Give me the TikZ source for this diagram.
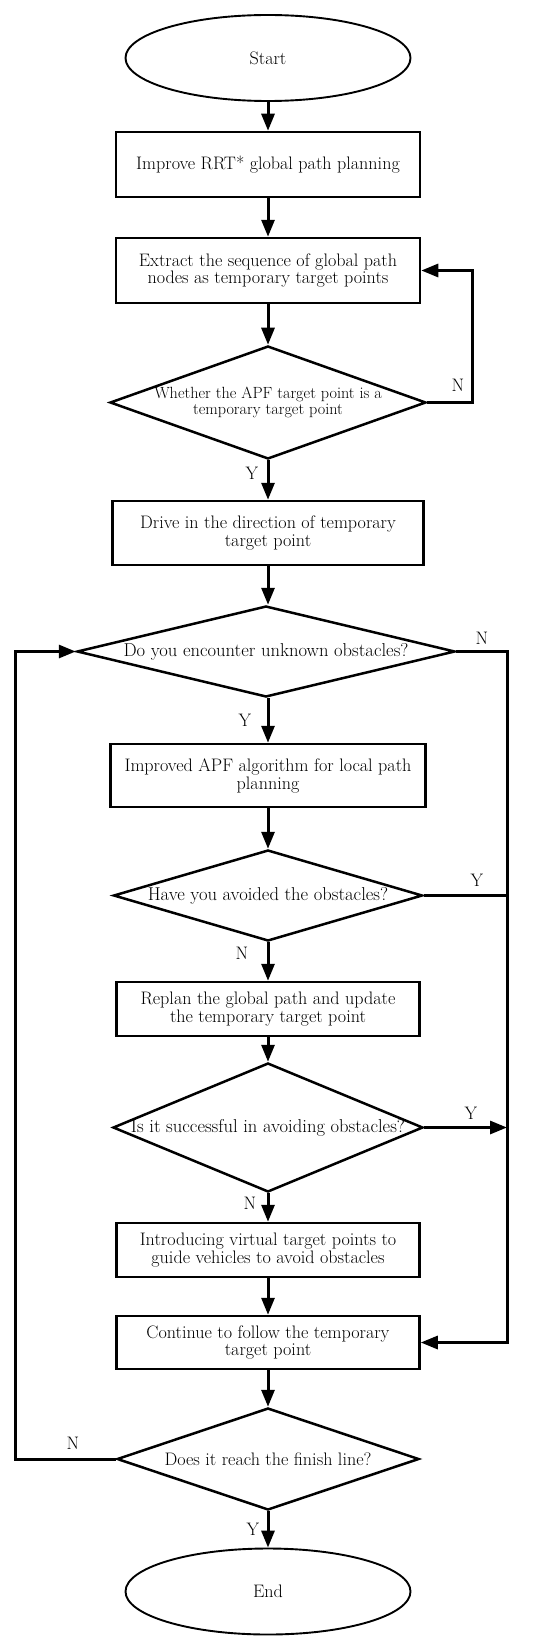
\documentclass[tikz,border=0pt]{standalone}
\usepackage{fontspec}
\usetikzlibrary{shapes.geometric,arrows.meta}
\begin{document}
\begin{tikzpicture}[
  x=1pt, y=-1pt,
  font=\fontsize{18.1}{17.9}\selectfont,
  terminal/.style={draw, ellipse, line width=1.9pt, minimum width=285pt, minimum height=86pt, inner sep=0pt},
  stepbox/.style={draw, rectangle, line width=2.5pt, minimum width=304pt, minimum height=#1, align=center, inner sep=0pt},
  query/.style={draw, diamond, line width=2.5pt, align=center, inner sep=-8pt, aspect=4, font=\fontsize{18.6}{18}\selectfont},
  flow/.style={-{Triangle[length=17pt,width=13pt]}, line width=3pt},
  link/.style={line width=3pt},
  yn/.style={font=\fontsize{18.1}{18.1}\selectfont},
]
\useasboundingbox (0,0) rectangle (550,1648);
% main column
\node[terminal] (start) at (268,58) {Start};
\node[stepbox=65pt] (rrt) at (268,164.5) {Improve RRT* global path planning};
\node[stepbox=65pt] (extract) at (268,270.5) {Extract the sequence of global path\\nodes as temporary target points};
\node[query, minimum width=316pt, minimum height=113pt, font=\fontsize{16.2}{16.7}\selectfont] (qapf) at (268,402.5) {Whether the APF target point is a\\temporary target point};
\node[stepbox=64pt, minimum width=311pt] (drive) at (268,533) {Drive in the direction of temporary\\target point};
\node[query, minimum width=378pt, minimum height=91pt] (obst) at (266,651.5) {Do you encounter unknown obstacles?};
\node[stepbox=63pt, minimum width=315pt] (apf) at (268,775.5) {Improved APF algorithm for local path\\planning};
\node[query, minimum width=309pt, minimum height=91pt] (avoid) at (268,895.5) {Have you avoided the obstacles?};
\node[stepbox=54pt, minimum width=303pt] (replan) at (268,1009) {Replan the global path and update\\the temporary target point};
\node[query, minimum width=310pt, minimum height=129pt] (success) at (268,1127.5) {Is it successful in avoiding obstacles?};
\node[stepbox=54pt, minimum width=303pt] (virtual) at (268,1250) {Introducing virtual target points to\\guide vehicles to avoid obstacles};
\node[stepbox=53pt, minimum width=303pt] (follow) at (268,1342.5) {Continue to follow the temporary\\target point};
\node[query, minimum width=302pt, minimum height=102pt, font=\fontsize{18.1}{18}\selectfont] (finish) at (268,1459) {Does it reach the finish line?};
\node[terminal] (end) at (268,1591.5) {End};
% side buses
\coordinate (busN) at (472,0);
\coordinate (busR) at (507,0);
\coordinate (busL) at (15,0);
% straight flow
\draw[flow] (start) -- (rrt);
\draw[flow] (rrt) -- (extract);
\draw[flow] (extract) -- (qapf);
\draw[flow] (qapf) -- (drive);
\draw[flow] (drive) -- (obst.north -| drive.south);
\draw[flow] (obst.south -| apf.north) -- (apf);
\draw[flow] (apf) -- (avoid);
\draw[flow] (avoid) -- (replan);
\draw[flow] (replan) -- (success);
\draw[flow] (success) -- (virtual);
\draw[flow] (virtual) -- (follow);
\draw[flow] (follow) -- (finish);
\draw[flow] (finish) -- (end);
% loops
\draw[flow] (qapf.east) -- (qapf.east -| busN) |- (extract.east);
\draw[flow] (obst.east) -- (obst.east -| busR) |- (follow.east);
\draw[link] (avoid.east) -- (avoid.east -| busR);
\draw[flow] (success.east) -- (success.east -| busR);
\draw[flow] (finish.west) -- (finish.west -| busL) |- (obst.west);
% labels
\node[yn] (n1) at (458,385) {N};
\node[yn] (y1) at (252,473) {Y};
\node[yn] (n2) at (482,638) {N};
\node[yn] (y2) at (245,720) {Y};
\node[yn] (y3) at (477,880) {Y};
\node[yn] (n3) at (242,953) {N};
\node[yn] (y4) at (471,1113) {Y};
\node[yn] (n4) at (250,1203) {N};
\node[yn] (n5) at (73,1443) {N};
\node[yn] (y5) at (253,1529) {Y};
\end{tikzpicture}
\end{document}
